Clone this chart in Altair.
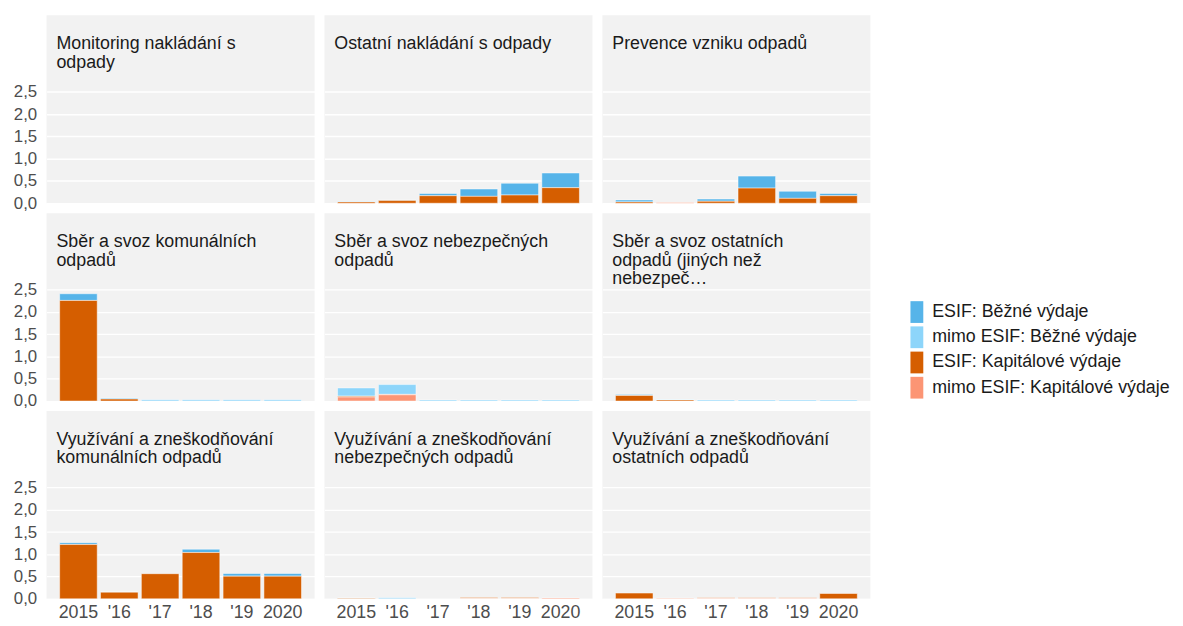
import altair as alt
import pandas as pd

years = ["2015", "'16", "'17", "'18", "'19", "2020"]

panels = [
    "Monitoring nakládání s\nodpady",
    "Ostatní nakládání s odpady",
    "Prevence vzniku odpadů",
    "Sběr a svoz komunálních\nodpadů",
    "Sběr a svoz nebezpečných\nodpadů",
    "Sběr a svoz ostatních\nodpadů (jiných než\nnebezpeč…",
    "Využívání a zneškodňování\nkomunálních odpadů",
    "Využívání a zneškodňování\nnebezpečných odpadů",
    "Využívání a zneškodňování\nostatních odpadů",
]

series = [
    "ESIF: Běžné výdaje",
    "mimo ESIF: Běžné výdaje",
    "ESIF: Kapitálové výdaje",
    "mimo ESIF: Kapitálové výdaje",
]
colors = ["#56B4E9", "#8DD5FA", "#D55E00", "#FC9574"]

esif_bezne = [
    [0, 0, 0, 0, 0, 0],
    [0.01, 0.015, 0.05, 0.165, 0.265, 0.33],
    [0.045, 0, 0.05, 0.27, 0.16, 0.05],
    [0.15, 0.02, 0, 0, 0, 0],
    [0, 0, 0, 0, 0, 0],
    [0.025, 0, 0, 0, 0, 0],
    [0.04, 0.005, 0.005, 0.075, 0.06, 0.06],
    [0.01, 0, 0, 0, 0, 0],
    [0, 0, 0, 0, 0, 0],
]
mimo_bezne = [
    [0, 0, 0, 0, 0, 0],
    [0, 0, 0, 0, 0, 0],
    [0, 0, 0, 0, 0, 0],
    [0, 0, 0.03, 0.03, 0.03, 0.03],
    [0.185, 0.22, 0.025, 0.025, 0.025, 0.025],
    [0, 0.01, 0.025, 0.025, 0.025, 0.025],
    [0, 0, 0, 0, 0, 0],
    [0, 0.025, 0, 0, 0, 0],
    [0, 0, 0, 0, 0, 0],
]
esif_kap = [
    [0, 0, 0, 0, 0, 0],
    [0.03, 0.06, 0.17, 0.155, 0.185, 0.35],
    [0.03, 0, 0.045, 0.34, 0.11, 0.17],
    [2.26, 0.045, 0, 0, 0, 0],
    [0.02, 0.01, 0, 0, 0, 0],
    [0.125, 0.025, 0, 0, 0, 0],
    [1.22, 0.15, 0.565, 1.04, 0.51, 0.51],
    [0.012, 0, 0, 0.02, 0.02, 0],
    [0.13, 0, 0.012, 0.012, 0.012, 0.12],
]
mimo_kap = [
    [0, 0, 0, 0, 0, 0],
    [0, 0, 0, 0, 0, 0],
    [0, 0.015, 0, 0, 0, 0],
    [0, 0, 0, 0, 0, 0],
    [0.09, 0.14, 0, 0, 0, 0],
    [0, 0, 0, 0, 0, 0],
    [0, 0, 0, 0, 0, 0],
    [0, 0, 0, 0.01, 0.01, 0.02],
    [0, 0.015, 0.012, 0.012, 0.012, 0],
]

# stacking rank: bottom first
stack_rank = {series[3]: 0, series[2]: 1, series[1]: 2, series[0]: 3}
all_series = [esif_bezne, mimo_bezne, esif_kap, mimo_kap]

rows = []
for p_i, p in enumerate(panels):
    for s_i, s in enumerate(series):
        for y_i, y in enumerate(years):
            v = all_series[s_i][p_i][y_i]
            if v > 0:
                rows.append({"panel": p_i, "rok": y, "typ": s, "hodnota": v,
                             "poradi": stack_rank[s]})
df = pd.DataFrame(rows)

W, H = 271, 190
FONT = "Liberation Sans"
label_expr = "replace(format(datum.value, '.1f'), '.', ',')"


def make_panel(i):
    col = i % 3
    row = i // 3
    sub = df[df["panel"] == i]
    if col == 0:
        yaxis = alt.Axis(values=[0, 0.5, 1, 1.5, 2, 2.5], labelExpr=label_expr,
                         title=None, ticks=False, domain=False, grid=True,
                         gridColor="white", gridWidth=1.3, labelFontSize=17,
                         labelColor="#4d4d4d", labelPadding=10, labelFont=FONT)
    else:
        yaxis = alt.Axis(values=[0, 0.5, 1, 1.5, 2, 2.5], labels=False,
                         title=None, ticks=False, domain=False, grid=True,
                         gridColor="white", gridWidth=1.3)
    if row == 2:
        xaxis = alt.Axis(title=None, ticks=False, domain=False, grid=False,
                         labelAngle=0, labelFontSize=18, labelColor="#4d4d4d",
                         labelPadding=5, labelFont=FONT)
    else:
        xaxis = None
    bars = alt.Chart(sub).mark_bar(stroke="white", strokeWidth=0.5).encode(
        x=alt.X("rok:N", scale=alt.Scale(domain=years, paddingInner=0.08,
                                         paddingOuter=0.32), axis=xaxis),
        y=alt.Y("hodnota:Q", stack="zero",
                scale=alt.Scale(domain=[0, 4.22], nice=False, zero=True),
                axis=yaxis),
        color=alt.Color("typ:N", scale=alt.Scale(domain=series, range=colors),
                        legend=alt.Legend(title=None, orient="none",
                                          legendX=869, legendY=289, padding=0,
                                          symbolType="M-0.59,-1H0.59V1H-0.59Z",
                                          symbolSize=484, symbolStrokeWidth=0,
                                          labelFontSize=18, labelColor="#1a1a1a",
                                          labelFont=FONT, labelLimit=0,
                                          rowPadding=3.5, labelOffset=4.5)),
        order=alt.Order("poradi:Q", sort="ascending"),
    )
    title = alt.Chart(pd.DataFrame({"t": [panels[i]]})).mark_text(
        align="left", baseline="alphabetic", fontSize=18, lineHeight=19,
        lineBreak="\n", color="#1a1a1a", font=FONT,
    ).encode(x=alt.value(10), y=alt.value(34), text="t:N")
    return alt.layer(bars, title).properties(width=W, height=H)


rows_charts = []
for r in range(3):
    rows_charts.append(alt.hconcat(*[make_panel(r * 3 + c) for c in range(3)],
                                   spacing=10))
chart = alt.vconcat(*rows_charts, spacing=2).properties(
    padding={"left": 5, "top": 4, "right": 5, "bottom": 0}
).configure_view(fill="#f2f2f2", stroke=None)

chart.save("out.html", embed_options={"renderer": "svg", "actions": False})
